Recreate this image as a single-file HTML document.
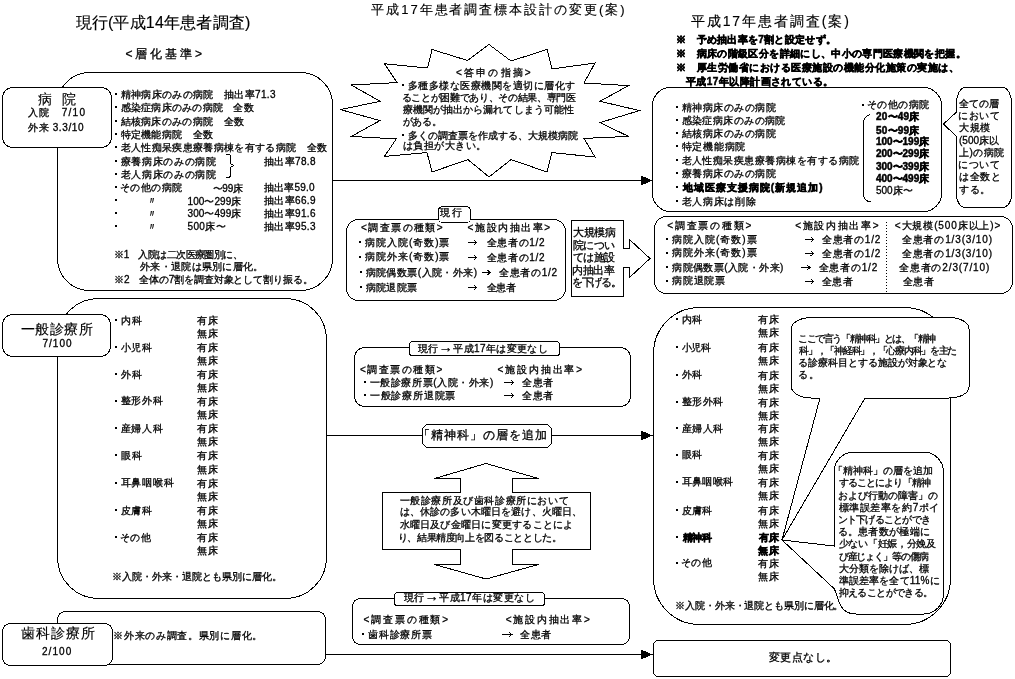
<!DOCTYPE html>
<html><head><meta charset="utf-8"><style>
html,body{margin:0;padding:0;background:#fff;width:1015px;height:679px;overflow:hidden}
body{position:relative;font-family:'Liberation Sans', sans-serif;color:#000;filter:grayscale(1)}
.t{position:absolute;white-space:pre}
</style></head><body>
<svg width="1015" height="679" style="position:absolute;left:0;top:0" stroke="black" stroke-width="1" shape-rendering="crispEdges"><rect x="57.5" y="72.5" width="275.0" height="218.0" rx="32" ry="32" fill="none" /><rect x="2.5" y="87.5" width="109.0" height="60.0" rx="10" ry="10" fill="white" /><rect x="57.5" y="298.5" width="269.0" height="300.0" rx="41" ry="41" fill="none" /><rect x="2.5" y="314.5" width="108.0" height="42.0" rx="10" ry="10" fill="white" /><rect x="57.5" y="611.5" width="268.0" height="53.0" rx="8" ry="8" fill="none" /><rect x="2.5" y="623.5" width="110.0" height="42.0" rx="8" ry="8" fill="white" /><path d="M226,154.5 H229 Q230.5,154.5 230.5,156.5 V163.5 L233.5,165.5 L230.5,167.5 V175 Q230.5,177.5 228,177.5 H226" fill="none" /><line x1="332.5" y1="180.5" x2="642" y2="180.5" /><polygon points="641,176.0 651.5,180.5 641,185.0" fill="black"/><line x1="326.5" y1="435.5" x2="642" y2="435.5" /><polygon points="641,431.0 651.5,435.5 641,440.0" fill="black"/><line x1="325.5" y1="654.5" x2="642" y2="654.5" /><polygon points="641,650.0 651.5,654.5 641,659.0" fill="black"/><polygon points="489,44.5 511,61 547,49.5 552,69 595,63 584,83 628.5,85.6 600,101.3 639.5,110.6 600,122.6 628.5,136.4 584,138.4 595,157 552,152.6 547,172 511,159.6 489,177 468,159.6 432,172 427,152.6 384.5,156.4 396.3,138.9 351.3,136.4 380,120.6 340.5,109.6 380,101.3 351.3,85 397,82.6 384.5,63.8 427.6,68 432,49.5 467.6,60.5" fill="white"/><rect x="346.5" y="219.5" width="219.0" height="81.0" rx="12" ry="12" fill="none" /><rect x="438.5" y="206.5" width="32.0" height="16.0" rx="4" ry="4" fill="white" /><polygon points="571.5,220.5 623.5,220.5 623.5,248.5 629.5,248.5 629.5,239.5 650,258.5 629.5,277.5 629.5,267.5 623.5,267.5 623.5,296.5 571.5,296.5" fill="white"/><rect x="354.5" y="347.5" width="276.0" height="59.0" rx="10" ry="10" fill="none" /><rect x="409.5" y="341.5" width="150.0" height="14.0" rx="3" ry="3" fill="white" /><polygon points="426.5,424.5 547.5,424.5 551.5,428.5 551.5,443.5 547.5,447.5 426.5,447.5 422.5,443.5 422.5,428.5" fill="white"/><polygon points="486,463.5 538.5,478.5 512.5,478.5 512.5,492.5 590.5,492.5 590.5,549.5 512.5,549.5 512.5,564.5 538.5,564.5 486,579 434.5,564.5 460.5,564.5 460.5,549.5 382.5,549.5 382.5,492.5 460.5,492.5 460.5,478.5 434.5,478.5" fill="white"/><rect x="352.5" y="598.5" width="277.0" height="46.0" rx="8" ry="8" fill="none" /><rect x="394.5" y="592.5" width="150.0" height="13.0" rx="3" ry="3" fill="white" /><rect x="652.5" y="87.5" width="289.0" height="124.0" rx="18" ry="18" fill="none" /><path d="M870.5,114.5 Q863.5,116 863.5,123 V194 Q863.5,201 871,202" fill="none" /><path d="M965.5,87.5 H1002.5 A9 15 0 0 1 1011.5,102.5 V193.5 A9 13 0 0 1 1002.5,207.5 H965.5 A9 13 0 0 1 956.5,193.5 V136.5 L943.5,124 L956.5,112 V102.5 A9 15 0 0 1 965.5,87.5 Z" fill="white" /><rect x="654.5" y="216.5" width="358.0" height="77.0" rx="12" ry="12" fill="none" /><line x1="886.5" y1="222" x2="886.5" y2="292" stroke-dasharray="1 2"/><rect x="653.5" y="307.5" width="297.0" height="317.0" rx="46" ry="46" fill="none" /><path d="M811.5,317.5 H949 A20 11 0 0 1 969,328.5 V387 A20 11 0 0 1 949,398 H865 L782,540 L820,398 H811.5 A20 11 0 0 1 791.5,387 V328.5 A20 11 0 0 1 811.5,317.5 Z" fill="white" /><path d="M854,452 H923.5 A20 20 0 0 1 943.5,472 V594 A20 20 0 0 1 923.5,614 H856 Q842,614 838,599 L834.5,589 L782,540 L834,546 V472 A20 20 0 0 1 854,452 Z" fill="white" /><polygon points="656.5,640.5 947.5,640.5 950.5,643.5 950.5,673.5 947.5,676.5 656.5,676.5 653.5,673.5 653.5,643.5" fill="white"/><line x1="468" y1="242.5" x2="476.7" y2="242.5"/><polyline points="473.7,240.0 476.7,242.5 473.7,245.0" fill="none"/><line x1="468" y1="257.5" x2="476.7" y2="257.5"/><polyline points="473.7,255.0 476.7,257.5 473.7,260.0" fill="none"/><line x1="481.6" y1="272.5" x2="490.2" y2="272.5"/><polyline points="487.2,270.0 490.2,272.5 487.2,275.0" fill="none"/><line x1="468" y1="287.5" x2="476.7" y2="287.5"/><polyline points="473.7,285.0 476.7,287.5 473.7,290.0" fill="none"/><line x1="504" y1="382.5" x2="513.7" y2="382.5"/><polyline points="510.70000000000005,380.0 513.7,382.5 510.70000000000005,385.0" fill="none"/><line x1="504" y1="395.5" x2="513.7" y2="395.5"/><polyline points="510.70000000000005,393.0 513.7,395.5 510.70000000000005,398.0" fill="none"/><line x1="501.8" y1="634.5" x2="511.9" y2="634.5"/><polyline points="508.9,632.0 511.9,634.5 508.9,637.0" fill="none"/><line x1="805" y1="239.5" x2="813.7" y2="239.5"/><polyline points="810.7,237.0 813.7,239.5 810.7,242.0" fill="none"/><line x1="805" y1="253.5" x2="813.7" y2="253.5"/><polyline points="810.7,251.0 813.7,253.5 810.7,256.0" fill="none"/><line x1="801.4" y1="267.5" x2="810" y2="267.5"/><polyline points="807,265.0 810,267.5 807,270.0" fill="none"/><line x1="805" y1="281.5" x2="813.7" y2="281.5"/><polyline points="810.7,279.0 813.7,281.5 810.7,284.0" fill="none"/><rect x="114.5" y="92.5" width="2" height="2" fill="black" stroke="none"/><rect x="114.5" y="106.0" width="2" height="2" fill="black" stroke="none"/><rect x="114.5" y="119.5" width="2" height="2" fill="black" stroke="none"/><rect x="114.5" y="132.5" width="2" height="2" fill="black" stroke="none"/><rect x="114.5" y="146.0" width="2" height="2" fill="black" stroke="none"/><rect x="114.5" y="159.5" width="2" height="2" fill="black" stroke="none"/><rect x="114.5" y="172.5" width="2" height="2" fill="black" stroke="none"/><rect x="114.5" y="186.0" width="2" height="2" fill="black" stroke="none"/><rect x="114.5" y="199.0" width="2" height="2" fill="black" stroke="none"/><rect x="114.5" y="211.5" width="2" height="2" fill="black" stroke="none"/><rect x="114.5" y="224.5" width="2" height="2" fill="black" stroke="none"/><rect x="114.5" y="318.5" width="2" height="2" fill="black" stroke="none"/><rect x="114.5" y="346.0" width="2" height="2" fill="black" stroke="none"/><rect x="114.5" y="373.0" width="2" height="2" fill="black" stroke="none"/><rect x="114.5" y="399.8" width="2" height="2" fill="black" stroke="none"/><rect x="114.5" y="426.8" width="2" height="2" fill="black" stroke="none"/><rect x="114.5" y="454.3" width="2" height="2" fill="black" stroke="none"/><rect x="114.5" y="481.8" width="2" height="2" fill="black" stroke="none"/><rect x="114.5" y="508.9" width="2" height="2" fill="black" stroke="none"/><rect x="114.5" y="536.0" width="2" height="2" fill="black" stroke="none"/><rect x="402.0" y="83.5" width="2" height="2" fill="black" stroke="none"/><rect x="402.0" y="133.5" width="2" height="2" fill="black" stroke="none"/><rect x="359.2" y="241.0" width="2" height="2" fill="black" stroke="none"/><rect x="359.2" y="255.7" width="2" height="2" fill="black" stroke="none"/><rect x="359.5" y="271.0" width="2" height="2" fill="black" stroke="none"/><rect x="359.5" y="286.3" width="2" height="2" fill="black" stroke="none"/><rect x="363.8" y="381.0" width="2" height="2" fill="black" stroke="none"/><rect x="363.8" y="394.3" width="2" height="2" fill="black" stroke="none"/><rect x="362.3" y="632.8" width="2" height="2" fill="black" stroke="none"/><rect x="675.5" y="106.0" width="2" height="2" fill="black" stroke="none"/><rect x="675.5" y="118.5" width="2" height="2" fill="black" stroke="none"/><rect x="675.5" y="131.5" width="2" height="2" fill="black" stroke="none"/><rect x="675.5" y="145.2" width="2" height="2" fill="black" stroke="none"/><rect x="675.5" y="158.5" width="2" height="2" fill="black" stroke="none"/><rect x="675.5" y="171.8" width="2" height="2" fill="black" stroke="none"/><rect x="675.5" y="185.5" width="2" height="2" fill="black" stroke="none"/><rect x="675.5" y="200.1" width="2" height="2" fill="black" stroke="none"/><rect x="861.5" y="103.5" width="2" height="2" fill="black" stroke="none"/><rect x="666.2" y="237.9" width="2" height="2" fill="black" stroke="none"/><rect x="666.2" y="251.7" width="2" height="2" fill="black" stroke="none"/><rect x="666.2" y="265.7" width="2" height="2" fill="black" stroke="none"/><rect x="666.2" y="279.8" width="2" height="2" fill="black" stroke="none"/><rect x="675.5" y="317.7" width="2" height="2" fill="black" stroke="none"/><rect x="675.5" y="345.9" width="2" height="2" fill="black" stroke="none"/><rect x="675.5" y="373.5" width="2" height="2" fill="black" stroke="none"/><rect x="675.5" y="400.5" width="2" height="2" fill="black" stroke="none"/><rect x="675.5" y="426.5" width="2" height="2" fill="black" stroke="none"/><rect x="675.5" y="453.9" width="2" height="2" fill="black" stroke="none"/><rect x="675.5" y="480.9" width="2" height="2" fill="black" stroke="none"/><rect x="675.5" y="508.7" width="2" height="2" fill="black" stroke="none"/><rect x="675.5" y="536.0" width="2" height="2" fill="black" stroke="none"/><rect x="675.5" y="561.7" width="2" height="2" fill="black" stroke="none"/></svg>
<div class="t" style="left:75.50px;top:15.00px;font-size:16px;line-height:16px;letter-spacing:0.208px;-webkit-text-stroke:0.15px #000">現行(平成14年患者調査)</div><div class="t" style="left:371.30px;top:3.00px;font-size:13px;line-height:13px;letter-spacing:1.950px;-webkit-text-stroke:0.15px #000">平成17年患者調査標本設計の変更(案)</div><div class="t" style="left:690.80px;top:14.20px;font-size:14px;line-height:14px;letter-spacing:1.918px;-webkit-text-stroke:0.15px #000">平成17年患者調査(案)</div><div class="t" style="left:125.50px;top:48.00px;font-size:12px;line-height:12px;letter-spacing:2.900px;-webkit-text-stroke:0.3px #000">&lt;層化基準&gt;</div><div class="t" style="left:37.50px;top:91.50px;font-size:14px;line-height:14px;letter-spacing:-1.750px;-webkit-text-stroke:0.15px #000">病　院</div><div class="t" style="left:28.00px;top:107.50px;font-size:10px;line-height:10px;letter-spacing:1.250px;-webkit-text-stroke:0.3px #000">入院　7/10</div><div class="t" style="left:28.00px;top:122.50px;font-size:10px;line-height:10px;letter-spacing:0.625px;-webkit-text-stroke:0.3px #000">外来 3.3/10</div><div class="t" style="left:120.50px;top:89.50px;font-size:10px;line-height:10px;letter-spacing:0.344px;-webkit-text-stroke:0.3px #000">精神病床のみの病院　抽出率71.3</div><div class="t" style="left:120.50px;top:103.00px;font-size:10px;line-height:10px;letter-spacing:0.250px;-webkit-text-stroke:0.3px #000">感染症病床のみの病院　全数</div><div class="t" style="left:120.50px;top:116.50px;font-size:10px;line-height:10px;letter-spacing:0.318px;-webkit-text-stroke:0.3px #000">結核病床のみの病院　全数</div><div class="t" style="left:120.50px;top:129.50px;font-size:10px;line-height:10px;letter-spacing:0.312px;-webkit-text-stroke:0.3px #000">特定機能病院　全数</div><div class="t" style="left:120.50px;top:143.00px;font-size:10px;line-height:10px;letter-spacing:0.342px;-webkit-text-stroke:0.3px #000">老人性痴呆疾患療養病棟を有する病院　全数</div><div class="t" style="left:120.50px;top:156.50px;font-size:10px;line-height:10px;letter-spacing:0.688px;-webkit-text-stroke:0.3px #000">療養病床のみの病院</div><div class="t" style="left:120.50px;top:169.50px;font-size:10px;line-height:10px;letter-spacing:0.688px;-webkit-text-stroke:0.3px #000">老人病床のみの病院</div><div class="t" style="left:119.50px;top:182.50px;font-size:10px;line-height:10px;letter-spacing:0.500px;-webkit-text-stroke:0.3px #000">その他の病院</div><div class="t" style="left:264.00px;top:156.50px;font-size:10px;line-height:10px;letter-spacing:0.333px;-webkit-text-stroke:0.3px #000">抽出率78.8</div><div class="t" style="left:212.50px;top:183.50px;font-size:10px;line-height:10px;letter-spacing:-0.167px;-webkit-text-stroke:0.3px #000">〜99床</div><div class="t" style="left:264.00px;top:183.00px;font-size:10px;line-height:10px;letter-spacing:0.167px;-webkit-text-stroke:0.3px #000">抽出率59.0</div><div class="t" style="left:147.00px;top:196.00px;font-size:10px;line-height:10px;-webkit-text-stroke:0.3px #000">〃</div><div class="t" style="left:187.50px;top:196.50px;font-size:10px;line-height:10px;letter-spacing:0.071px;-webkit-text-stroke:0.3px #000">100〜299床</div><div class="t" style="left:264.00px;top:196.00px;font-size:10px;line-height:10px;letter-spacing:0.333px;-webkit-text-stroke:0.3px #000">抽出率66.9</div><div class="t" style="left:147.00px;top:208.50px;font-size:10px;line-height:10px;-webkit-text-stroke:0.3px #000">〃</div><div class="t" style="left:187.50px;top:209.00px;font-size:10px;line-height:10px;letter-spacing:0.071px;-webkit-text-stroke:0.3px #000">300〜499床</div><div class="t" style="left:264.00px;top:208.50px;font-size:10px;line-height:10px;letter-spacing:0.333px;-webkit-text-stroke:0.3px #000">抽出率91.6</div><div class="t" style="left:147.00px;top:221.50px;font-size:10px;line-height:10px;-webkit-text-stroke:0.3px #000">〃</div><div class="t" style="left:187.50px;top:222.00px;font-size:10px;line-height:10px;letter-spacing:0.375px;-webkit-text-stroke:0.3px #000">500床〜</div><div class="t" style="left:264.00px;top:221.50px;font-size:10px;line-height:10px;letter-spacing:0.333px;-webkit-text-stroke:0.3px #000">抽出率95.3</div><div class="t" style="left:114.40px;top:249.50px;font-size:10px;line-height:10px;letter-spacing:-0.554px;-webkit-text-stroke:0.3px #000">※1　入院は二次医療圏別に、</div><div class="t" style="left:140.00px;top:261.50px;font-size:10px;line-height:10px;letter-spacing:0.309px;-webkit-text-stroke:0.3px #000">外来・退院は県別に層化。</div><div class="t" style="left:114.00px;top:274.70px;font-size:10px;line-height:10px;letter-spacing:-0.125px;-webkit-text-stroke:0.3px #000">※2　全体の7割を調査対象として割り振る。</div><div class="t" style="left:20.75px;top:322.00px;font-size:14px;line-height:14px;letter-spacing:0.562px;-webkit-text-stroke:0.15px #000">一般診療所</div><div class="t" style="left:42.50px;top:338.50px;font-size:10px;line-height:10px;letter-spacing:1.000px;-webkit-text-stroke:0.3px #000">7/100</div><div class="t" style="left:120.50px;top:315.50px;font-size:10px;line-height:10px;letter-spacing:1.000px;-webkit-text-stroke:0.3px #000">内科</div><div class="t" style="left:196.75px;top:315.50px;font-size:10px;line-height:10px;letter-spacing:0.750px;-webkit-text-stroke:0.3px #000">有床</div><div class="t" style="left:196.75px;top:328.70px;font-size:10px;line-height:10px;letter-spacing:0.750px;-webkit-text-stroke:0.3px #000">無床</div><div class="t" style="left:120.50px;top:343.00px;font-size:10px;line-height:10px;letter-spacing:0.750px;-webkit-text-stroke:0.3px #000">小児科</div><div class="t" style="left:196.75px;top:343.00px;font-size:10px;line-height:10px;letter-spacing:0.750px;-webkit-text-stroke:0.3px #000">有床</div><div class="t" style="left:196.75px;top:356.20px;font-size:10px;line-height:10px;letter-spacing:0.750px;-webkit-text-stroke:0.3px #000">無床</div><div class="t" style="left:120.50px;top:369.50px;font-size:10px;line-height:10px;letter-spacing:1.000px;-webkit-text-stroke:0.3px #000">外科</div><div class="t" style="left:196.75px;top:370.00px;font-size:10px;line-height:10px;letter-spacing:0.750px;-webkit-text-stroke:0.3px #000">有床</div><div class="t" style="left:196.75px;top:383.20px;font-size:10px;line-height:10px;letter-spacing:0.750px;-webkit-text-stroke:0.3px #000">無床</div><div class="t" style="left:120.50px;top:396.25px;font-size:10px;line-height:10px;letter-spacing:0.833px;-webkit-text-stroke:0.3px #000">整形外科</div><div class="t" style="left:196.75px;top:396.75px;font-size:10px;line-height:10px;letter-spacing:0.750px;-webkit-text-stroke:0.3px #000">有床</div><div class="t" style="left:196.75px;top:409.95px;font-size:10px;line-height:10px;letter-spacing:0.750px;-webkit-text-stroke:0.3px #000">無床</div><div class="t" style="left:120.50px;top:423.75px;font-size:10px;line-height:10px;letter-spacing:0.833px;-webkit-text-stroke:0.3px #000">産婦人科</div><div class="t" style="left:196.75px;top:423.75px;font-size:10px;line-height:10px;letter-spacing:0.750px;-webkit-text-stroke:0.3px #000">有床</div><div class="t" style="left:196.75px;top:436.95px;font-size:10px;line-height:10px;letter-spacing:0.750px;-webkit-text-stroke:0.3px #000">無床</div><div class="t" style="left:120.50px;top:450.80px;font-size:10px;line-height:10px;letter-spacing:1.000px;-webkit-text-stroke:0.3px #000">眼科</div><div class="t" style="left:196.75px;top:451.30px;font-size:10px;line-height:10px;letter-spacing:0.750px;-webkit-text-stroke:0.3px #000">有床</div><div class="t" style="left:196.75px;top:464.50px;font-size:10px;line-height:10px;letter-spacing:0.750px;-webkit-text-stroke:0.3px #000">無床</div><div class="t" style="left:120.50px;top:478.30px;font-size:10px;line-height:10px;letter-spacing:0.750px;-webkit-text-stroke:0.3px #000">耳鼻咽喉科</div><div class="t" style="left:196.75px;top:478.80px;font-size:10px;line-height:10px;letter-spacing:0.750px;-webkit-text-stroke:0.3px #000">有床</div><div class="t" style="left:196.75px;top:492.00px;font-size:10px;line-height:10px;letter-spacing:0.750px;-webkit-text-stroke:0.3px #000">無床</div><div class="t" style="left:120.50px;top:505.90px;font-size:10px;line-height:10px;letter-spacing:0.850px;-webkit-text-stroke:0.3px #000">皮膚科</div><div class="t" style="left:196.75px;top:505.90px;font-size:10px;line-height:10px;letter-spacing:0.750px;-webkit-text-stroke:0.3px #000">有床</div><div class="t" style="left:196.75px;top:519.10px;font-size:10px;line-height:10px;letter-spacing:0.750px;-webkit-text-stroke:0.3px #000">無床</div><div class="t" style="left:119.50px;top:532.50px;font-size:10px;line-height:10px;letter-spacing:0.650px;-webkit-text-stroke:0.3px #000">その他</div><div class="t" style="left:196.75px;top:533.00px;font-size:10px;line-height:10px;letter-spacing:0.750px;-webkit-text-stroke:0.3px #000">有床</div><div class="t" style="left:196.75px;top:546.20px;font-size:10px;line-height:10px;letter-spacing:0.750px;-webkit-text-stroke:0.3px #000">無床</div><div class="t" style="left:112.30px;top:572.10px;font-size:10px;line-height:10px;letter-spacing:-0.031px;-webkit-text-stroke:0.3px #000">※入院・外来・退院とも県別に層化。</div><div class="t" style="left:21.00px;top:625.70px;font-size:14px;line-height:14px;letter-spacing:0.975px;-webkit-text-stroke:0.15px #000">歯科診療所</div><div class="t" style="left:42.00px;top:646.50px;font-size:10px;line-height:10px;letter-spacing:1.050px;-webkit-text-stroke:0.3px #000">2/100</div><div class="t" style="left:113.40px;top:630.90px;font-size:10px;line-height:10px;letter-spacing:0.677px;-webkit-text-stroke:0.3px #000">※外来のみ調査。県別に層化。</div><div class="t" style="left:456.00px;top:68.00px;font-size:10px;line-height:10px;letter-spacing:2.167px;-webkit-text-stroke:0.3px #000">&lt;答申の指摘&gt;</div><div class="t" style="left:408.00px;top:80.50px;font-size:10px;line-height:10px;letter-spacing:0.467px;-webkit-text-stroke:0.3px #000">多種多様な医療機関を適切に層化す</div><div class="t" style="left:401.50px;top:93.00px;font-size:10px;line-height:10px;letter-spacing:-0.324px;-webkit-text-stroke:0.3px #000">ることが困難であり、その結果、専門医</div><div class="t" style="left:402.50px;top:104.80px;font-size:10px;line-height:10px;letter-spacing:0.094px;-webkit-text-stroke:0.3px #000">療機関が抽出から漏れてしまう可能性</div><div class="t" style="left:402.50px;top:116.80px;font-size:10px;line-height:10px;letter-spacing:-0.083px;-webkit-text-stroke:0.3px #000">がある。</div><div class="t" style="left:408.00px;top:130.50px;font-size:10px;line-height:10px;-webkit-text-stroke:0.3px #000">多くの調査票を作成する、大規模病院</div><div class="t" style="left:402.50px;top:141.30px;font-size:10px;line-height:10px;letter-spacing:0.557px;-webkit-text-stroke:0.3px #000">は負担が大きい。</div><div class="t" style="left:440.00px;top:208.40px;font-size:10px;line-height:10px;letter-spacing:2.100px;-webkit-text-stroke:0.3px #000">現行</div><div class="t" style="left:361.00px;top:223.20px;font-size:10px;line-height:10px;letter-spacing:1.429px;-webkit-text-stroke:0.3px #000">&lt;調査票の種類&gt;</div><div class="t" style="left:467.60px;top:223.20px;font-size:10px;line-height:10px;letter-spacing:1.557px;-webkit-text-stroke:0.3px #000">&lt;施設内抽出率&gt;</div><div class="t" style="left:365.20px;top:238.00px;font-size:10px;line-height:10px;letter-spacing:0.950px;-webkit-text-stroke:0.3px #000">病院入院(奇数)票</div><div class="t" style="left:486.50px;top:238.00px;font-size:10px;line-height:10px;letter-spacing:0.683px;-webkit-text-stroke:0.3px #000">全患者の1/2</div><div class="t" style="left:365.20px;top:252.20px;font-size:10px;line-height:10px;letter-spacing:0.950px;-webkit-text-stroke:0.3px #000">病院外来(奇数)票</div><div class="t" style="left:486.50px;top:252.70px;font-size:10px;line-height:10px;letter-spacing:0.683px;-webkit-text-stroke:0.3px #000">全患者の1/2</div><div class="t" style="left:365.50px;top:268.00px;font-size:10px;line-height:10px;letter-spacing:0.455px;-webkit-text-stroke:0.3px #000">病院偶数票(入院・外来)</div><div class="t" style="left:498.90px;top:268.00px;font-size:10px;line-height:10px;letter-spacing:0.700px;-webkit-text-stroke:0.3px #000">全患者の1/2</div><div class="t" style="left:365.50px;top:282.80px;font-size:10px;line-height:10px;letter-spacing:0.475px;-webkit-text-stroke:0.3px #000">病院退院票</div><div class="t" style="left:486.50px;top:283.30px;font-size:10px;line-height:10px;letter-spacing:-0.150px;-webkit-text-stroke:0.3px #000">全患者</div><div class="t" style="left:573.00px;top:226.90px;font-size:10.5px;line-height:10.5px;letter-spacing:-0.367px;-webkit-text-stroke:0.3px #000">大規模病</div><div class="t" style="left:573.00px;top:239.50px;font-size:10.5px;line-height:10.5px;letter-spacing:-0.700px;-webkit-text-stroke:0.3px #000">院につい</div><div class="t" style="left:573.00px;top:252.40px;font-size:10.5px;line-height:10.5px;letter-spacing:-0.700px;-webkit-text-stroke:0.3px #000">ては施設</div><div class="t" style="left:572.00px;top:264.50px;font-size:10.5px;line-height:10.5px;letter-spacing:-0.367px;-webkit-text-stroke:0.3px #000">内抽出率</div><div class="t" style="left:572.00px;top:277.10px;font-size:10.5px;line-height:10.5px;letter-spacing:-1.275px;-webkit-text-stroke:0.3px #000">を下げる。</div><div class="t" style="left:418.00px;top:343.90px;font-size:10px;line-height:10px;letter-spacing:0.383px;-webkit-text-stroke:0.3px #000">現行<span style="font-size:1.4em;line-height:0">→</span>平成17年は変更なし</div><div class="t" style="left:360.00px;top:365.20px;font-size:10px;line-height:10px;letter-spacing:1.514px;-webkit-text-stroke:0.3px #000">&lt;調査票の種類&gt;</div><div class="t" style="left:497.50px;top:365.20px;font-size:10px;line-height:10px;letter-spacing:1.843px;-webkit-text-stroke:0.3px #000">&lt;施設内抽出率&gt;</div><div class="t" style="left:369.80px;top:378.00px;font-size:10px;line-height:10px;letter-spacing:0.567px;-webkit-text-stroke:0.3px #000">一般診療所票(入院・外来)</div><div class="t" style="left:522.40px;top:378.00px;font-size:10px;line-height:10px;letter-spacing:0.400px;-webkit-text-stroke:0.3px #000">全患者</div><div class="t" style="left:369.80px;top:391.30px;font-size:10px;line-height:10px;letter-spacing:0.800px;-webkit-text-stroke:0.3px #000">一般診療所退院票</div><div class="t" style="left:522.40px;top:391.30px;font-size:10px;line-height:10px;letter-spacing:0.400px;-webkit-text-stroke:0.3px #000">全患者</div><div class="t" style="left:417.50px;top:430.00px;font-size:11.5px;line-height:11.5px;letter-spacing:1.056px;-webkit-text-stroke:0.3px #000">「精神科」の層を追加</div><div class="t" style="left:399.60px;top:495.90px;font-size:10px;line-height:10px;letter-spacing:0.607px;-webkit-text-stroke:0.3px #000">一般診療所及び歯科診療所において</div><div class="t" style="left:399.60px;top:507.00px;font-size:10px;line-height:10px;letter-spacing:0.153px;-webkit-text-stroke:0.3px #000">は、休診の多い木曜日を避け、火曜日、</div><div class="t" style="left:399.60px;top:520.00px;font-size:10px;line-height:10px;letter-spacing:0.225px;-webkit-text-stroke:0.3px #000">水曜日及び金曜日に変更することによ</div><div class="t" style="left:397.60px;top:533.00px;font-size:10px;line-height:10px;letter-spacing:-0.350px;-webkit-text-stroke:0.3px #000">り、結果精度向上を図ることとした。</div><div class="t" style="left:403.70px;top:592.90px;font-size:10px;line-height:10px;letter-spacing:0.475px;-webkit-text-stroke:0.3px #000">現行<span style="font-size:1.4em;line-height:0">→</span>平成17年は変更なし</div><div class="t" style="left:363.50px;top:615.00px;font-size:10px;line-height:10px;letter-spacing:1.857px;-webkit-text-stroke:0.3px #000">&lt;調査票の種類&gt;</div><div class="t" style="left:505.80px;top:615.00px;font-size:10px;line-height:10px;letter-spacing:1.771px;-webkit-text-stroke:0.3px #000">&lt;施設内抽出率&gt;</div><div class="t" style="left:368.30px;top:629.80px;font-size:10px;line-height:10px;letter-spacing:0.680px;-webkit-text-stroke:0.3px #000">歯科診療所票</div><div class="t" style="left:519.90px;top:629.80px;font-size:10px;line-height:10px;letter-spacing:0.750px;-webkit-text-stroke:0.3px #000">全患者</div><div class="t" style="left:676.00px;top:35.00px;font-size:10px;line-height:10px;font-weight:bold;letter-spacing:0.293px;-webkit-text-stroke:0.5px #000">※　予め抽出率を7割と設定せず。</div><div class="t" style="left:676.00px;top:49.30px;font-size:10px;line-height:10px;font-weight:bold;letter-spacing:0.352px;-webkit-text-stroke:0.5px #000">※　病床の階級区分を詳細にし、中小の専門医療機関を把握。</div><div class="t" style="left:676.00px;top:63.00px;font-size:10px;line-height:10px;font-weight:bold;letter-spacing:0.481px;-webkit-text-stroke:0.5px #000">※　厚生労働省における医療施設の機能分化施策の実施は、</div><div class="t" style="left:686.00px;top:76.75px;font-size:10px;line-height:10px;font-weight:bold;letter-spacing:0.429px;-webkit-text-stroke:0.5px #000">平成17年以降計画されている。</div><div class="t" style="left:681.50px;top:103.00px;font-size:10px;line-height:10px;letter-spacing:0.562px;-webkit-text-stroke:0.3px #000">精神病床のみの病院</div><div class="t" style="left:681.50px;top:115.50px;font-size:10px;line-height:10px;letter-spacing:0.444px;-webkit-text-stroke:0.3px #000">感染症病床のみの病院</div><div class="t" style="left:681.50px;top:128.50px;font-size:10px;line-height:10px;letter-spacing:0.562px;-webkit-text-stroke:0.3px #000">結核病床のみの病院</div><div class="t" style="left:681.50px;top:142.25px;font-size:10px;line-height:10px;letter-spacing:0.750px;-webkit-text-stroke:0.3px #000">特定機能病院</div><div class="t" style="left:681.50px;top:155.50px;font-size:10px;line-height:10px;letter-spacing:0.469px;-webkit-text-stroke:0.3px #000">老人性痴呆疾患療養病棟を有する病院</div><div class="t" style="left:681.50px;top:168.75px;font-size:10px;line-height:10px;letter-spacing:0.562px;-webkit-text-stroke:0.3px #000">療養病床のみの病院</div><div class="t" style="left:682.50px;top:182.50px;font-size:10px;line-height:10px;font-weight:bold;letter-spacing:1.038px;-webkit-text-stroke:0.5px #000">地域医療支援病院(新規追加)</div><div class="t" style="left:681.50px;top:197.10px;font-size:10px;line-height:10px;letter-spacing:0.667px;-webkit-text-stroke:0.3px #000">老人病床は削除</div><div class="t" style="left:866.50px;top:100.00px;font-size:10px;line-height:10px;letter-spacing:0.520px;-webkit-text-stroke:0.3px #000">その他の病院</div><div class="t" style="left:876.00px;top:112.10px;font-size:10px;line-height:10px;font-weight:bold;letter-spacing:0.200px;-webkit-text-stroke:0.5px #000">20〜49床</div><div class="t" style="left:876.00px;top:125.50px;font-size:10px;line-height:10px;font-weight:bold;letter-spacing:0.200px;-webkit-text-stroke:0.5px #000">50〜99床</div><div class="t" style="left:876.00px;top:137.40px;font-size:10px;line-height:10px;font-weight:bold;letter-spacing:-0.029px;-webkit-text-stroke:0.5px #000">100〜199床</div><div class="t" style="left:876.00px;top:148.80px;font-size:10px;line-height:10px;font-weight:bold;letter-spacing:-0.029px;-webkit-text-stroke:0.5px #000">200〜299床</div><div class="t" style="left:876.00px;top:161.90px;font-size:10px;line-height:10px;font-weight:bold;letter-spacing:-0.029px;-webkit-text-stroke:0.5px #000">300〜399床</div><div class="t" style="left:876.00px;top:174.30px;font-size:10px;line-height:10px;font-weight:bold;letter-spacing:-0.029px;-webkit-text-stroke:0.5px #000">400〜499床</div><div class="t" style="left:876.00px;top:186.00px;font-size:10px;line-height:10px;-webkit-text-stroke:0.3px #000">500床〜</div><div class="t" style="left:959.00px;top:99.00px;font-size:10px;line-height:10px;letter-spacing:0.033px;-webkit-text-stroke:0.3px #000">全ての層</div><div class="t" style="left:958.00px;top:111.20px;font-size:10px;line-height:10px;letter-spacing:0.700px;-webkit-text-stroke:0.3px #000">において</div><div class="t" style="left:959.00px;top:123.00px;font-size:10px;line-height:10px;letter-spacing:0.500px;-webkit-text-stroke:0.3px #000">大規模</div><div class="t" style="left:959.00px;top:135.50px;font-size:10px;line-height:10px;letter-spacing:0.020px;-webkit-text-stroke:0.3px #000">(500床以</div><div class="t" style="left:959.00px;top:147.80px;font-size:10px;line-height:10px;letter-spacing:0.500px;-webkit-text-stroke:0.3px #000">上)の病院</div><div class="t" style="left:958.00px;top:159.90px;font-size:10px;line-height:10px;letter-spacing:0.700px;-webkit-text-stroke:0.3px #000">について</div><div class="t" style="left:959.00px;top:171.90px;font-size:10px;line-height:10px;letter-spacing:0.700px;-webkit-text-stroke:0.3px #000">は全数と</div><div class="t" style="left:959.00px;top:184.50px;font-size:10px;line-height:10px;letter-spacing:0.500px;-webkit-text-stroke:0.3px #000">する。</div><div class="t" style="left:667.20px;top:220.90px;font-size:10px;line-height:10px;letter-spacing:1.786px;-webkit-text-stroke:0.3px #000">&lt;調査票の種類&gt;</div><div class="t" style="left:795.20px;top:220.90px;font-size:10px;line-height:10px;letter-spacing:1.686px;-webkit-text-stroke:0.3px #000">&lt;施設内抽出率&gt;</div><div class="t" style="left:894.80px;top:221.40px;font-size:10px;line-height:10px;letter-spacing:0.875px;-webkit-text-stroke:0.3px #000">&lt;大規模(500床以上)&gt;</div><div class="t" style="left:672.20px;top:234.90px;font-size:10px;line-height:10px;letter-spacing:0.975px;-webkit-text-stroke:0.3px #000">病院入院(奇数)票</div><div class="t" style="left:821.80px;top:234.90px;font-size:10px;line-height:10px;letter-spacing:0.767px;-webkit-text-stroke:0.3px #000">全患者の1/2</div><div class="t" style="left:901.80px;top:235.20px;font-size:10px;line-height:10px;letter-spacing:0.850px;-webkit-text-stroke:0.3px #000">全患者の1/3(3/10)</div><div class="t" style="left:672.20px;top:248.20px;font-size:10px;line-height:10px;letter-spacing:0.975px;-webkit-text-stroke:0.3px #000">病院外来(奇数)票</div><div class="t" style="left:821.80px;top:248.70px;font-size:10px;line-height:10px;letter-spacing:0.767px;-webkit-text-stroke:0.3px #000">全患者の1/2</div><div class="t" style="left:901.80px;top:249.00px;font-size:10px;line-height:10px;letter-spacing:0.850px;-webkit-text-stroke:0.3px #000">全患者の1/3(3/10)</div><div class="t" style="left:672.20px;top:262.70px;font-size:10px;line-height:10px;letter-spacing:0.409px;-webkit-text-stroke:0.3px #000">病院偶数票(入院・外来)</div><div class="t" style="left:818.60px;top:262.70px;font-size:10px;line-height:10px;letter-spacing:0.783px;-webkit-text-stroke:0.3px #000">全患者の1/2</div><div class="t" style="left:898.90px;top:262.70px;font-size:10px;line-height:10px;letter-spacing:0.858px;-webkit-text-stroke:0.3px #000">全患者の2/3(7/10)</div><div class="t" style="left:672.20px;top:276.30px;font-size:10px;line-height:10px;letter-spacing:0.700px;-webkit-text-stroke:0.3px #000">病院退院票</div><div class="t" style="left:821.80px;top:276.80px;font-size:10px;line-height:10px;letter-spacing:0.650px;-webkit-text-stroke:0.3px #000">全患者</div><div class="t" style="left:903.00px;top:276.50px;font-size:10px;line-height:10px;letter-spacing:0.350px;-webkit-text-stroke:0.3px #000">全患者</div><div class="t" style="left:681.50px;top:314.70px;font-size:10px;line-height:10px;letter-spacing:0.100px;-webkit-text-stroke:0.3px #000">内科</div><div class="t" style="left:757.80px;top:314.70px;font-size:10px;line-height:10px;letter-spacing:1.100px;-webkit-text-stroke:0.3px #000">有床</div><div class="t" style="left:757.80px;top:328.00px;font-size:10px;line-height:10px;letter-spacing:1.100px;-webkit-text-stroke:0.3px #000">無床</div><div class="t" style="left:681.50px;top:342.90px;font-size:10px;line-height:10px;letter-spacing:-0.150px;-webkit-text-stroke:0.3px #000">小児科</div><div class="t" style="left:757.80px;top:342.90px;font-size:10px;line-height:10px;letter-spacing:1.100px;-webkit-text-stroke:0.3px #000">有床</div><div class="t" style="left:757.80px;top:356.20px;font-size:10px;line-height:10px;letter-spacing:1.100px;-webkit-text-stroke:0.3px #000">無床</div><div class="t" style="left:681.50px;top:370.00px;font-size:10px;line-height:10px;letter-spacing:0.100px;-webkit-text-stroke:0.3px #000">外科</div><div class="t" style="left:757.80px;top:370.50px;font-size:10px;line-height:10px;letter-spacing:1.100px;-webkit-text-stroke:0.3px #000">有床</div><div class="t" style="left:757.80px;top:383.80px;font-size:10px;line-height:10px;letter-spacing:1.100px;-webkit-text-stroke:0.3px #000">無床</div><div class="t" style="left:681.50px;top:397.00px;font-size:10px;line-height:10px;letter-spacing:0.500px;-webkit-text-stroke:0.3px #000">整形外科</div><div class="t" style="left:757.80px;top:397.50px;font-size:10px;line-height:10px;letter-spacing:1.100px;-webkit-text-stroke:0.3px #000">有床</div><div class="t" style="left:757.80px;top:410.80px;font-size:10px;line-height:10px;letter-spacing:1.100px;-webkit-text-stroke:0.3px #000">無床</div><div class="t" style="left:681.50px;top:423.50px;font-size:10px;line-height:10px;letter-spacing:0.500px;-webkit-text-stroke:0.3px #000">産婦人科</div><div class="t" style="left:757.80px;top:423.50px;font-size:10px;line-height:10px;letter-spacing:1.100px;-webkit-text-stroke:0.3px #000">有床</div><div class="t" style="left:757.80px;top:436.80px;font-size:10px;line-height:10px;letter-spacing:1.100px;-webkit-text-stroke:0.3px #000">無床</div><div class="t" style="left:681.50px;top:450.40px;font-size:10px;line-height:10px;letter-spacing:0.100px;-webkit-text-stroke:0.3px #000">眼科</div><div class="t" style="left:757.80px;top:450.90px;font-size:10px;line-height:10px;letter-spacing:1.100px;-webkit-text-stroke:0.3px #000">有床</div><div class="t" style="left:757.80px;top:464.20px;font-size:10px;line-height:10px;letter-spacing:1.100px;-webkit-text-stroke:0.3px #000">無床</div><div class="t" style="left:681.50px;top:477.40px;font-size:10px;line-height:10px;letter-spacing:0.350px;-webkit-text-stroke:0.3px #000">耳鼻咽喉科</div><div class="t" style="left:757.80px;top:477.90px;font-size:10px;line-height:10px;letter-spacing:1.100px;-webkit-text-stroke:0.3px #000">有床</div><div class="t" style="left:757.80px;top:491.20px;font-size:10px;line-height:10px;letter-spacing:1.100px;-webkit-text-stroke:0.3px #000">無床</div><div class="t" style="left:681.50px;top:505.70px;font-size:10px;line-height:10px;letter-spacing:0.350px;-webkit-text-stroke:0.3px #000">皮膚科</div><div class="t" style="left:757.80px;top:505.70px;font-size:10px;line-height:10px;letter-spacing:1.100px;-webkit-text-stroke:0.3px #000">有床</div><div class="t" style="left:757.80px;top:519.00px;font-size:10px;line-height:10px;letter-spacing:1.100px;-webkit-text-stroke:0.3px #000">無床</div><div class="t" style="left:682.50px;top:533.00px;font-size:10px;line-height:10px;font-weight:bold;letter-spacing:-0.150px;-webkit-text-stroke:0.5px #000">精神科</div><div class="t" style="left:758.80px;top:533.00px;font-size:10px;line-height:10px;font-weight:bold;letter-spacing:0.100px;-webkit-text-stroke:0.5px #000">有床</div><div class="t" style="left:757.80px;top:546.30px;font-size:10px;line-height:10px;font-weight:bold;letter-spacing:1.100px;-webkit-text-stroke:0.5px #000">無床</div><div class="t" style="left:680.50px;top:558.20px;font-size:10px;line-height:10px;letter-spacing:0.550px;-webkit-text-stroke:0.3px #000">その他</div><div class="t" style="left:757.80px;top:558.70px;font-size:10px;line-height:10px;letter-spacing:1.100px;-webkit-text-stroke:0.3px #000">有床</div><div class="t" style="left:757.80px;top:572.00px;font-size:10px;line-height:10px;letter-spacing:1.100px;-webkit-text-stroke:0.3px #000">無床</div><div class="t" style="left:675.30px;top:600.50px;font-size:10px;line-height:10px;letter-spacing:-0.119px;-webkit-text-stroke:0.3px #000">※入院・外来・退院とも県別に層化。</div><div class="t" style="left:798.30px;top:334.40px;font-size:10px;line-height:10px;letter-spacing:-1.460px;-webkit-text-stroke:0.3px #000">ここで言う「精神科」とは、「精神</div><div class="t" style="left:799.30px;top:346.20px;font-size:10px;line-height:10px;letter-spacing:-1.288px;-webkit-text-stroke:0.3px #000">科」，「神経科」，「心療内科」を主た</div><div class="t" style="left:798.30px;top:358.30px;font-size:10px;line-height:10px;letter-spacing:-0.064px;-webkit-text-stroke:0.3px #000">る診療科目とする施設が対象とな</div><div class="t" style="left:798.30px;top:370.10px;font-size:10px;line-height:10px;letter-spacing:1.100px;-webkit-text-stroke:0.3px #000">る。</div><div class="t" style="left:832.60px;top:466.00px;font-size:10px;line-height:10px;letter-spacing:0.067px;-webkit-text-stroke:0.3px #000">「精神科」の層を追加</div><div class="t" style="left:838.60px;top:477.90px;font-size:10px;line-height:10px;letter-spacing:-0.867px;-webkit-text-stroke:0.3px #000">することにより「精神</div><div class="t" style="left:837.60px;top:490.60px;font-size:10px;line-height:10px;letter-spacing:0.078px;-webkit-text-stroke:0.3px #000">および行動の障害」の</div><div class="t" style="left:838.60px;top:502.50px;font-size:10px;line-height:10px;letter-spacing:0.578px;-webkit-text-stroke:0.3px #000">標準誤差率を約7ポイ</div><div class="t" style="left:837.60px;top:514.50px;font-size:10px;line-height:10px;letter-spacing:-0.756px;-webkit-text-stroke:0.3px #000">ント下げることができ</div><div class="t" style="left:837.60px;top:526.90px;font-size:10px;line-height:10px;letter-spacing:0.275px;-webkit-text-stroke:0.3px #000">る。患者数が極端に</div><div class="t" style="left:838.60px;top:539.20px;font-size:10px;line-height:10px;letter-spacing:-0.267px;-webkit-text-stroke:0.3px #000">少ない「妊娠，分娩及</div><div class="t" style="left:838.60px;top:552.10px;font-size:10px;line-height:10px;letter-spacing:-1.089px;-webkit-text-stroke:0.3px #000">び産じょく」等の傷病</div><div class="t" style="left:838.60px;top:564.00px;font-size:10px;line-height:10px;letter-spacing:0.025px;-webkit-text-stroke:0.3px #000">大分類を除けば、標</div><div class="t" style="left:838.60px;top:576.00px;font-size:10px;line-height:10px;letter-spacing:0.170px;-webkit-text-stroke:0.3px #000">準誤差率を全て11%に</div><div class="t" style="left:838.60px;top:588.20px;font-size:10px;line-height:10px;letter-spacing:-0.589px;-webkit-text-stroke:0.3px #000">抑えることができる。</div><div class="t" style="left:768.60px;top:651.50px;font-size:11px;line-height:11px;letter-spacing:0.560px;-webkit-text-stroke:0.3px #000">変更点なし。</div>
</body></html>
